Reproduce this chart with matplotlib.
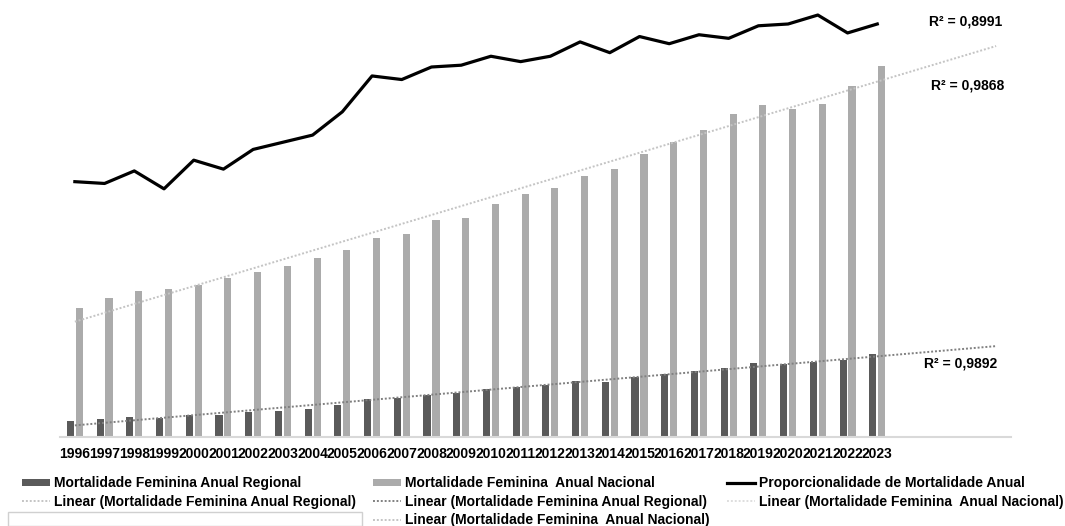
import numpy as np
import matplotlib
matplotlib.use("Agg")
import matplotlib.pyplot as plt
from matplotlib.lines import Line2D
from matplotlib.patches import Patch, Rectangle

plt.rcParams['font.family'] = ['Liberation Sans', 'DejaVu Sans']
plt.rcParams['font.weight'] = 'bold'

years = [str(y) for y in range(1996, 2024)]

mort_regional = [16, 18, 20, 19, 22, 22, 25, 26, 28, 32, 38, 39, 42, 44,
                 48, 50, 52, 56, 55, 60, 63, 66, 69, 74, 73, 75, 77, 83]
mort_nacional = [129, 139, 146, 148, 152, 159, 165, 171, 179, 187, 199, 203,
                 217, 219, 233, 243, 249, 261, 268, 283, 295, 307, 323, 332,
                 328, 333, 351, 371]
proporcionalidade = [13.2, 13.1, 13.8, 12.8, 14.4, 13.9, 15.0, 15.4, 15.8,
                     17.1, 19.1, 18.9, 19.6, 19.7, 20.2, 19.9, 20.2, 21.0,
                     20.4, 21.3, 20.9, 21.4, 21.2, 21.9, 22.0, 22.5, 21.5,
                     22.0]

r2_labels = ["R² = 0,8991", "R² = 0,9868", "R² = 0,9892"]
forecast_periods = 4

C_REG = '#5a5a5a'
C_NAC = '#ababab'
C_TREND_REG = '#808080'
C_TREND_NAC = '#c4c4c4'

fig = plt.figure(figsize=(10.65, 5.26), dpi=100)
ax = fig.add_axes([60 / 1065, 89 / 526, 951 / 1065, 432 / 526])

x = np.arange(len(years))
bw = 0.24
ax.bar(x - 0.15, mort_regional, width=bw, color=C_REG, zorder=2)
ax.bar(x + 0.15, mort_nacional, width=bw, color=C_NAC, zorder=2)

# linear trends, extended forward like a spreadsheet forecast
xt = np.arange(0, len(years) + forecast_periods)
for series, col in ((mort_nacional, C_TREND_NAC), (mort_regional, C_TREND_REG)):
    k, b = np.polyfit(x, series, 1)
    ax.plot(xt, k * xt + b, linestyle=(0, (1, 1)), color=col, lw=1.4, zorder=3)

ax.set_xlim(-0.5, len(years) + forecast_periods - 0.5)
ax.set_ylim(0, 432)
ax.set_xticks(x)
ax.set_xticklabels(years, fontsize=10, fontweight='bold')
ax.tick_params(axis='x', length=0, pad=7)
ax.set_yticks([])
for s in ('left', 'right', 'top'):
    ax.spines[s].set_visible(False)
ax.spines['bottom'].set_color('#d9d9d9')
ax.spines['bottom'].set_linewidth(1.5)

ax2 = ax.twinx()
ax2.plot(x, proporcionalidade, color='black', lw=2.3, zorder=4)
ax2.set_ylim(-1.05, 23.06)
ax2.set_yticks([])
for s in ax2.spines.values():
    s.set_visible(False)

ax.patch.set_visible(False)

fig.text(966 / 1065, 1 - 21 / 526, r2_labels[0], ha='center', va='center',
         fontsize=10, fontweight='bold')
fig.text(968 / 1065, 1 - 85 / 526, r2_labels[1], ha='center', va='center',
         fontsize=10, fontweight='bold')
fig.text(961 / 1065, 1 - 364 / 526, r2_labels[2], ha='center', va='center',
         fontsize=10, fontweight='bold')

blank = Line2D([], [], color='none')
h_reg = Patch(facecolor=C_REG, edgecolor='none')
h_nac = Patch(facecolor=C_NAC, edgecolor='none')
h_prop = Line2D([], [], color='black', lw=2.3)
h_lreg = Line2D([], [], color=C_TREND_NAC, lw=1.4, linestyle=(0, (1, 1)))
h_lreg2 = Line2D([], [], color=C_TREND_REG, lw=1.4, linestyle=(0, (1, 1)))
h_lnac = Line2D([], [], color='#dedede', lw=1.4, linestyle=(0, (1, 1)))

lbl_reg = "Mortalidade Feminina Anual Regional"
lbl_nac = "Mortalidade Feminina  Anual Nacional"
lbl_prop = "Proporcionalidade de Mortalidade Anual"

handles = [h_reg, h_lreg, blank,
           h_nac, h_lreg2, h_lreg,
           h_prop, h_lnac, blank]
labels = [lbl_reg, f"Linear ({lbl_reg})", "",
          lbl_nac, f"Linear ({lbl_reg})", f"Linear ({lbl_nac})",
          lbl_prop, f"Linear ({lbl_nac})", ""]

leg = fig.legend(handles, labels, ncol=3, loc='upper left',
                 bbox_to_anchor=(22 / 1065, 1 - 476 / 526),
                 frameon=False, borderpad=0, borderaxespad=0,
                 handlelength=2.0, handleheight=0.4, handletextpad=0.3,
                 columnspacing=1.25, labelspacing=0.34,
                 prop={'size': 10, 'weight': 'bold'})

fig.patches.append(Rectangle((8 / 1065, 0), 354 / 1065, 14 / 526,
                             transform=fig.transFigure, facecolor='white',
                             edgecolor='#d0d0d0', lw=1.0, zorder=5))

fig.savefig('out.png', dpi=100, facecolor='white')
